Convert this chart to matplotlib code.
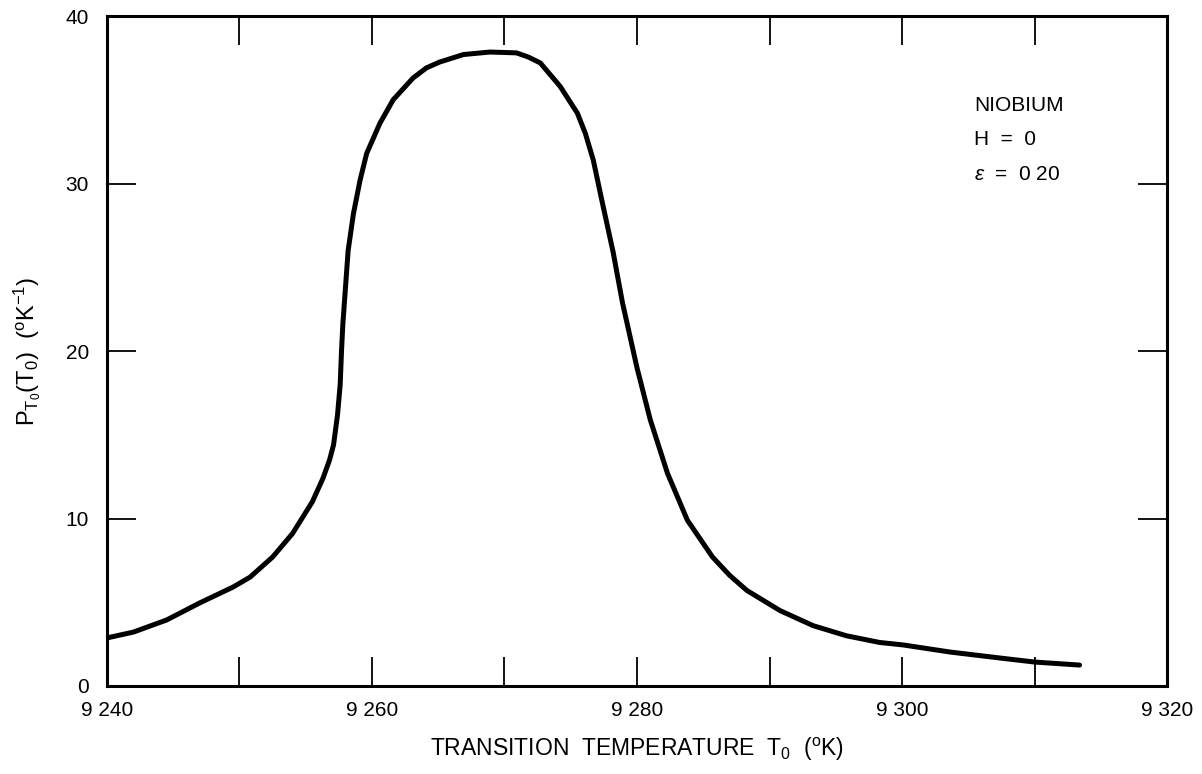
import matplotlib
matplotlib.use('Agg')
import matplotlib.pyplot as plt

# values
temp_k = [9.2400, 9.2420, 9.2445, 9.2470, 9.2495, 9.2508, 9.2525, 9.2540,
          9.2555, 9.2563, 9.2568, 9.2571, 9.2574, 9.2576, 9.2577, 9.2578,
          9.2580, 9.2582, 9.2586, 9.2591, 9.2596, 9.2606, 9.2616, 9.2631,
          9.2641, 9.2651, 9.2669, 9.2689, 9.2709, 9.2718, 9.2727, 9.2742,
          9.2755, 9.2761, 9.2767, 9.2774, 9.2782, 9.2789, 9.2800, 9.2810,
          9.2823, 9.2838, 9.2857, 9.2870, 9.2883, 9.2908, 9.2933, 9.2958,
          9.2983, 9.3001, 9.3036, 9.3074, 9.3100, 9.3134]
prob = [2.87, 3.22, 3.94, 4.96, 5.9, 6.5, 7.7, 9.1,
        11.0, 12.4, 13.5, 14.4, 16.2, 18.0, 20.0, 21.6,
        23.8, 26.0, 28.2, 30.2, 31.8, 33.6, 35.0, 36.3,
        36.9, 37.25, 37.7, 37.85, 37.8, 37.55, 37.2, 35.8,
        34.2, 33.0, 31.4, 28.8, 25.9, 22.9, 19.0, 15.9,
        12.7, 9.9, 7.7, 6.6, 5.7, 4.5, 3.6, 3.0,
        2.6, 2.45, 2.03, 1.67, 1.43, 1.25]

x_major = [9.24, 9.26, 9.28, 9.30, 9.32]
x_labels = ['9 240', '9 260', '9 280', '9 300', '9 320']
x_minor = [9.25, 9.27, 9.29, 9.31]
y_ticks = [0, 10, 20, 30, 40]
note_lines = ['NIOBIUM', 'H  =  0', r'$\epsilon$  =  0 20']

plt.rcParams['font.family'] = ['Liberation Sans', 'DejaVu Sans']
plt.rcParams['mathtext.fontset'] = 'custom'
plt.rcParams['mathtext.rm'] = 'Liberation Sans'
plt.rcParams['mathtext.it'] = 'Liberation Sans:italic'

fig = plt.figure(figsize=(12.02, 7.74), dpi=100)
ax = fig.add_axes([0.089, 0.1137, 0.8819, 0.8656])

ax.plot(temp_k, prob, color='black', lw=3.6,
        solid_joinstyle='round', solid_capstyle='round')

ax.set_xlim(9.24, 9.32)
ax.set_ylim(0, 40)
ax.set_xticks(x_major)
ax.set_xticklabels(x_labels)
ax.set_xticks(x_minor, minor=True)
ax.set_yticks(y_ticks)

ax.tick_params(which='both', direction='in', length=21, width=1.3,
               top=True, right=True, labelsize=15, color='black')
ax.tick_params(axis='x', which='major', pad=11)
ax.tick_params(axis='y', which='major', pad=13)

for s in ax.spines.values():
    s.set_linewidth(2.2)

ax.set_xlabel(r'TRANSITION  TEMPERATURE  T$_0$  ($^{\mathrm{o}}$K)', fontsize=16.5,
              labelpad=11)
ax.set_ylabel(r'P$_{\mathrm{T}_0}$(T$_0$)  ($^{\mathrm{o}}$K$^{-1}$)', fontsize=17,
              labelpad=16)

y0 = 0.867
for i, line in enumerate(note_lines):
    ax.text(0.818, y0 - i * 0.0515, line, transform=ax.transAxes,
            fontsize=15, va='center', ha='left')

fig.savefig('out.png', dpi=100)
plt.close(fig)
